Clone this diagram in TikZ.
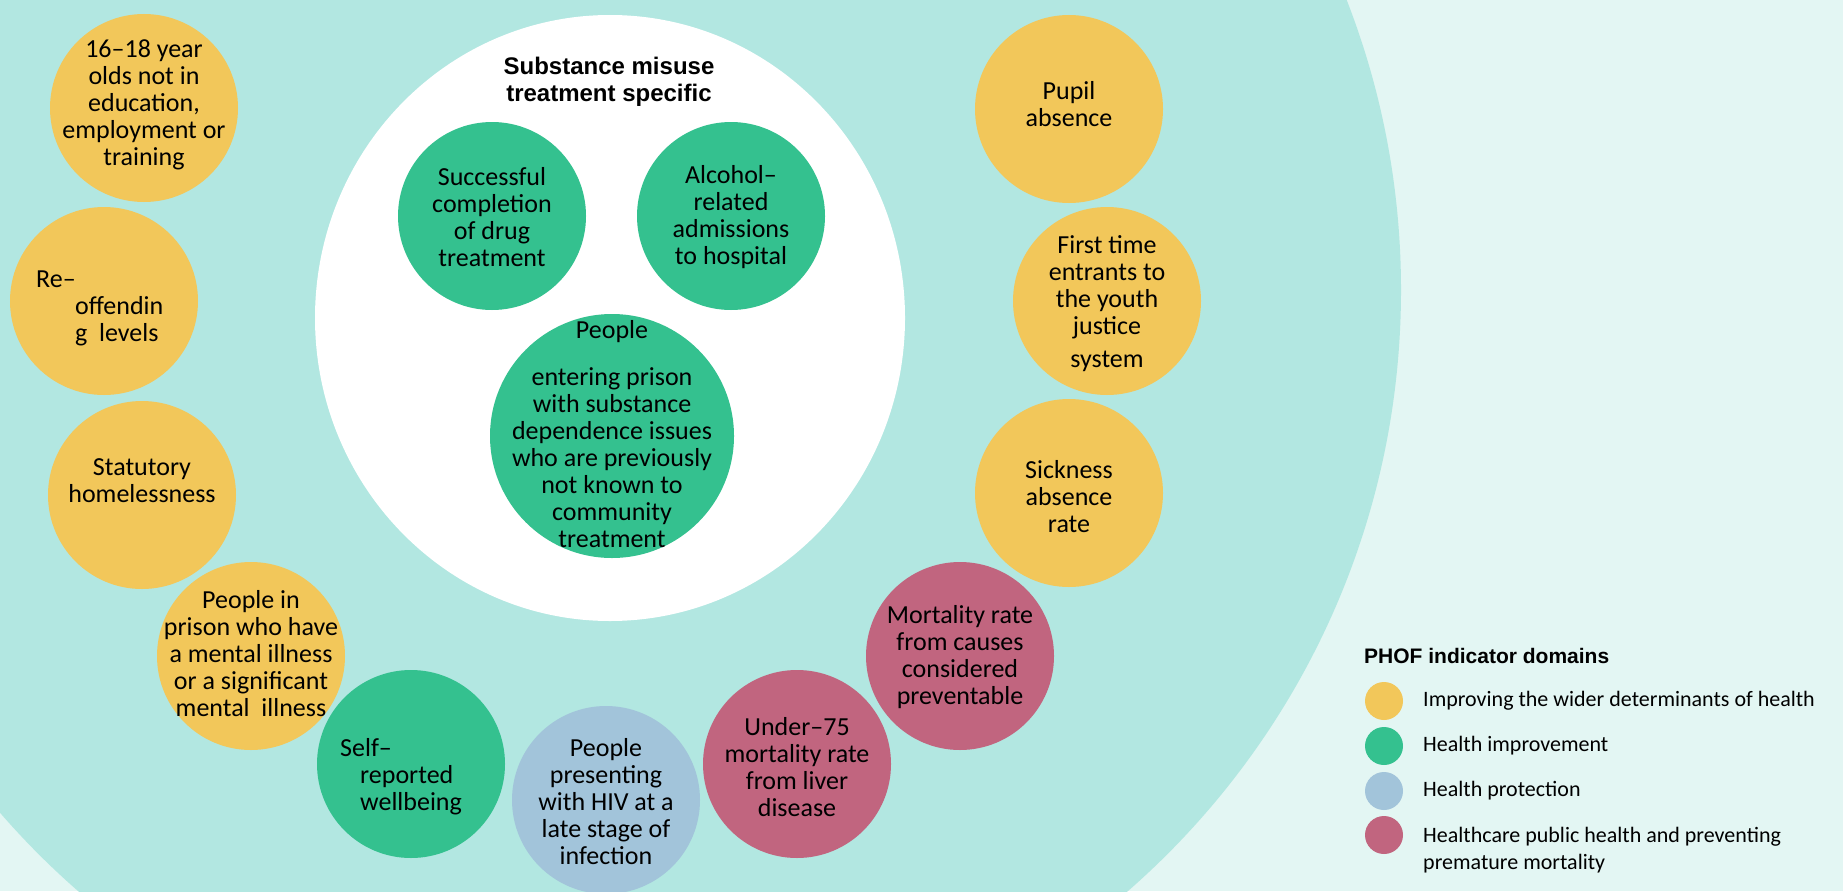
\documentclass[tikz,border=0pt]{standalone}
\usepackage{fontspec}
\setmainfont{Carlito}
\newfontfamily\headfont{Liberation Sans}
\usepackage{tikz}

\definecolor{bgpale}{RGB}{227,246,243}
\definecolor{ringteal}{RGB}{178,231,225}
\definecolor{wider}{RGB}{242,199,90}
\definecolor{improve}{RGB}{52,193,143}
\definecolor{protect}{RGB}{162,196,218}
\definecolor{mortal}{RGB}{193,101,127}

\begin{document}
\begin{tikzpicture}[x=1pt,y=-1pt,
    lbl/.style={font=\fontsize{26}{27}\selectfont,align=center,inner sep=0pt},
    leg/.style={font=\fontsize{22}{27}\selectfont,anchor=west,align=left,inner sep=0pt},
    head/.style={font=\headfont\bfseries,align=center,inner sep=0pt}]
          \useasboundingbox(0,0)rectangle(1843,891);
          \clip(0,0)rectangle(1843,891);
          \fill[bgpale](0,0)rectangle(1843,891);
          \fill[ringteal](603,290)circle(798pt);
          \fill[white](610,318)ellipse(295pt and 303pt);
          % outer ring of indicators
          \fill[wider](144,108)circle(94pt);
          \fill[wider](104,301)circle(94pt);
          \fill[wider](142,495)circle(94pt);
          \fill[wider](251,656)circle(94pt);
          \fill[improve](411,764)circle(94pt);
          \fill[protect](606,800)circle(94pt);
          \fill[mortal](797,764)circle(94pt);
          \fill[mortal](960,656)circle(94pt);
          \fill[wider](1069,493)circle(94pt);
          \fill[wider](1107,301)circle(94pt);
          \fill[wider](1069,109)circle(94pt);
          % substance misuse treatment specific
          \fill[improve](492,216)circle(94pt);
          \fill[improve](731,216)circle(94pt);
          \fill[improve](612,436)circle(122pt);
          \node[head,font=\headfont\bfseries\fontsize{24}{27}\selectfont](title)at(609,82){Substance misuse\\treatment specific};
          \node[lbl](neet)at(144,105){16--18 year\\olds not in\\education,\\employment or\\training};
          \node[lbl,align=left,anchor=west](reoff)at(36,308){Re--\\\hspace*{39pt}offendin\\\hspace*{39pt}g~~levels};
          \node[lbl](homeless)at(142,481){Statutory\\homelessness};
          \node[lbl](prisonmh)at(251,654){People in\\prison who have\\a mental illness\\or a significant\\mental~~illness};
          \node[lbl,align=left,anchor=west](wellbeing)at(340,777){Self--\\\hspace*{20pt}reported\\\hspace*{20pt}wellbeing};
          \node[lbl](hiv)at(606,802){People\\presenting\\with HIV at a\\late stage of\\infection};
          \node[lbl](liver)at(797,767){Under--75\\mortality rate\\from liver\\disease};
          \node[lbl](prevent)at(960,657){Mortality rate\\from causes\\considered\\preventable};
          \node[lbl](sickness)at(1069,497){Sickness\\absence\\rate};
          \node[lbl](firsttime)at(1107,304){First time\\entrants to\\the youth\\justice\\[6pt]system};
          \node[lbl](pupil)at(1069,104){Pupil\\absence};
          \node[lbl](drugtx)at(492,217){Successful\\completion\\of drug\\treatment};
          \node[lbl](alcohol)at(731,217){Alcohol--\\related\\admissions\\to hospital};
          \node[lbl](prison)at(612,434){People\\[20pt]entering prison\\with substance\\dependence issues\\who are previously\\not known to\\community\\treatment};
          % legend
          \node[head,anchor=west,font=\headfont\bfseries\fontsize{21}{25}\selectfont](legtitle)at(1364,656){PHOF indicator domains};
          \fill[wider](1384,701)circle(19pt);
          \fill[improve](1384,746)circle(19pt);
          \fill[protect](1384,791)circle(19pt);
          \fill[mortal](1384,835)circle(19pt);
          \node[leg](legwider)at(1423,701){Improving the wider determinants of health};
          \node[leg](legimprove)at(1423,746){Health improvement};
          \node[leg](legprotect)at(1423,791){Health protection};
          \node[leg](legmortal)at(1423,850){Healthcare public health and preventing\\premature mortality};
        \end{tikzpicture}
\end{document}
